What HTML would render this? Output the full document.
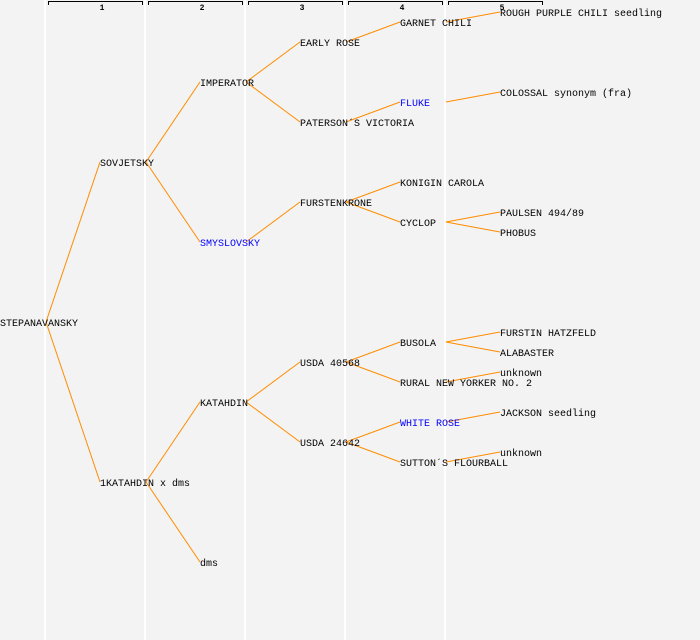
<!DOCTYPE html>
<html><head><meta charset="utf-8"><style>
html,body{margin:0;padding:0;background:#f3f3f3;}
svg{display:block;}
text{font-family:"Liberation Mono",monospace;font-size:10px;fill:#000;}
.b{fill:#0000ff;}
.n{font-size:8px;font-weight:bold;}
line.c{stroke:#ff8c00;stroke-width:1;}
</style></head><body>
<svg width="700" height="640" xmlns="http://www.w3.org/2000/svg">
<rect width="700" height="640" fill="#f3f3f3"/>
<g stroke="#ffffff" stroke-width="2">
<line x1="45" y1="0" x2="45" y2="640"/><line x1="145" y1="0" x2="145" y2="640"/><line x1="245" y1="0" x2="245" y2="640"/><line x1="345" y1="0" x2="345" y2="640"/><line x1="445" y1="0" x2="445" y2="640"/>
</g>
<g stroke="#000" stroke-width="1" fill="none">
<path d="M48.5 5V1.5H142.5V5"/><path d="M148.5 5V1.5H242.5V5"/><path d="M248.5 5V1.5H342.5V5"/><path d="M348.5 5V1.5H442.5V5"/><path d="M448.5 5V1.5H542.5V5"/>
</g>
<g class="n" text-anchor="middle">
<text class="n" x="102" y="10">1</text><text class="n" x="202" y="10">2</text><text class="n" x="302" y="10">3</text><text class="n" x="402" y="10">4</text><text class="n" x="502" y="10">5</text>
</g>
<g>
<line class="c" x1="46" y1="322" x2="100" y2="162"/>
<line class="c" x1="46" y1="322" x2="100" y2="482"/>
<line class="c" x1="146" y1="162" x2="200" y2="82"/>
<line class="c" x1="146" y1="162" x2="200" y2="242"/>
<line class="c" x1="146" y1="482" x2="200" y2="402"/>
<line class="c" x1="146" y1="482" x2="200" y2="562"/>
<line class="c" x1="246" y1="82" x2="300" y2="42"/>
<line class="c" x1="246" y1="82" x2="300" y2="122"/>
<line class="c" x1="246" y1="242" x2="300" y2="202"/>
<line class="c" x1="246" y1="402" x2="300" y2="362"/>
<line class="c" x1="246" y1="402" x2="300" y2="442"/>
<line class="c" x1="346" y1="42" x2="400" y2="22"/>
<line class="c" x1="346" y1="122" x2="400" y2="102"/>
<line class="c" x1="346" y1="202" x2="400" y2="182"/>
<line class="c" x1="346" y1="202" x2="400" y2="222"/>
<line class="c" x1="346" y1="362" x2="400" y2="342"/>
<line class="c" x1="346" y1="362" x2="400" y2="382"/>
<line class="c" x1="346" y1="442" x2="400" y2="422"/>
<line class="c" x1="346" y1="442" x2="400" y2="462"/>
<line class="c" x1="446" y1="22" x2="500" y2="12"/>
<line class="c" x1="446" y1="102" x2="500" y2="92"/>
<line class="c" x1="446" y1="222" x2="500" y2="212"/>
<line class="c" x1="446" y1="222" x2="500" y2="232"/>
<line class="c" x1="446" y1="342" x2="500" y2="332"/>
<line class="c" x1="446" y1="342" x2="500" y2="352"/>
<line class="c" x1="446" y1="382" x2="500" y2="372"/>
<line class="c" x1="446" y1="422" x2="500" y2="412"/>
<line class="c" x1="446" y1="462" x2="500" y2="452"/>
</g>
<text x="0" y="326">STEPANAVANSKY</text>
<text x="100" y="166">SOVJETSKY</text>
<text x="100" y="486">1KATAHDIN x dms</text>
<text x="200" y="86">IMPERATOR</text>
<text x="200" y="246" class="b">SMYSLOVSKY</text>
<text x="200" y="406">KATAHDIN</text>
<text x="200" y="566">dms</text>
<text x="300" y="46">EARLY ROSE</text>
<text x="300" y="126">PATERSON´S VICTORIA</text>
<text x="300" y="206">FURSTENKRONE</text>
<text x="300" y="366">USDA 40568</text>
<text x="300" y="446">USDA 24642</text>
<text x="400" y="26">GARNET CHILI</text>
<text x="400" y="106" class="b">FLUKE</text>
<text x="400" y="186">KONIGIN CAROLA</text>
<text x="400" y="226">CYCLOP</text>
<text x="400" y="346">BUSOLA</text>
<text x="400" y="386">RURAL NEW YORKER NO. 2</text>
<text x="400" y="426" class="b">WHITE ROSE</text>
<text x="400" y="466">SUTTON´S FLOURBALL</text>
<text x="500" y="16">ROUGH PURPLE CHILI seedling</text>
<text x="500" y="96">COLOSSAL synonym (fra)</text>
<text x="500" y="216">PAULSEN 494/89</text>
<text x="500" y="236">PHOBUS</text>
<text x="500" y="336">FURSTIN HATZFELD</text>
<text x="500" y="356">ALABASTER</text>
<text x="500" y="376">unknown</text>
<text x="500" y="416">JACKSON seedling</text>
<text x="500" y="456">unknown</text>
</svg>
</body></html>
